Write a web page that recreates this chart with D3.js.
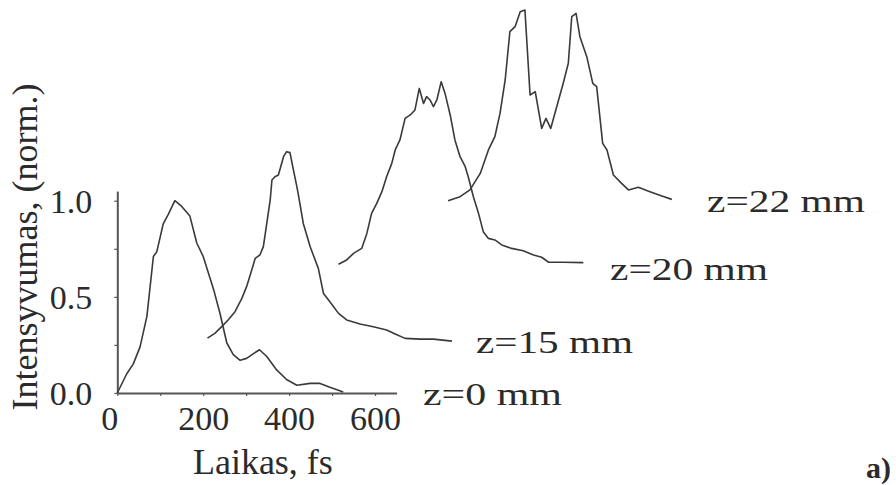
<!DOCTYPE html>
<html>
<head>
<meta charset="utf-8">
<script src="https://cdn.jsdelivr.net/npm/d3@7"></script>
<style>
  body { margin: 0; background: #fff; }
  svg { display: block; }
  text { font-family: "Liberation Serif", "Times New Roman", serif; fill: #2b2b2b; }
</style>
</head>
<body>
<div id="chart"></div>
<script>
// pulse profiles, time in fs and normalised intensity, each curve in its own frame
var seriesNames = ["z=0 mm", "z=15 mm", "z=20 mm", "z=22 mm"];
var timeShift = [0, 210, 515, 770];      // fs, horizontal offset of each curve
var levelShift = [0, 0.28, 0.67, 1.0];    // vertical offset of each curve

var time0 = [0, 22, 37, 53, 69, 84, 92, 107, 119, 134, 150, 169, 185, 200, 224, 239, 255, 270, 286, 301, 317, 331, 348, 371, 394, 418, 449, 472, 495, 526];
var int0 = [0, 0.10, 0.15, 0.24, 0.40, 0.71, 0.735, 0.88, 0.93, 1.0, 0.97, 0.92, 0.78, 0.71, 0.54, 0.415, 0.26, 0.20, 0.17, 0.18, 0.205, 0.225, 0.19, 0.12, 0.07, 0.04, 0.05, 0.05, 0.03, 0.005];

var time15 = [0, 17, 33, 48, 64, 80, 91, 103, 111, 122, 130, 138, 146, 150, 157, 165, 177, 184, 192, 200, 208, 211, 223, 239, 258, 270, 285, 305, 324, 355, 386, 417, 437, 460, 495, 526, 569];
var int15 = [0.005, 0.03, 0.065, 0.10, 0.143, 0.212, 0.273, 0.36, 0.42, 0.438, 0.481, 0.602, 0.724, 0.828, 0.845, 0.854, 0.949, 0.975, 0.97, 0.88, 0.793, 0.758, 0.602, 0.481, 0.368, 0.238, 0.195, 0.134, 0.10, 0.079, 0.065, 0.048, 0.027, 0.004, 0, 0, -0.01];

var time20 = [0, 19, 35, 54, 66, 77, 89, 101, 112, 124, 132, 143, 155, 167, 178, 188, 198, 205, 213, 221, 229, 239, 248, 260, 271, 283, 295, 302, 314, 326, 337, 349, 364, 380, 403, 430, 454, 473, 489, 523, 570];
var int20 = [0, 0.022, 0.056, 0.082, 0.16, 0.264, 0.316, 0.377, 0.455, 0.524, 0.594, 0.646, 0.758, 0.776, 0.802, 0.914, 0.836, 0.871, 0.854, 0.819, 0.854, 0.949, 0.888, 0.776, 0.646, 0.559, 0.507, 0.455, 0.351, 0.264, 0.169, 0.134, 0.126, 0.10, 0.082, 0.07, 0.048, 0.036, 0.01, 0.01, 0.008];

var time22 = [0, 28, 51, 75, 94, 109, 121, 133, 144, 156, 168, 179, 191, 203, 218, 228, 239, 253, 268, 280, 288, 298, 307, 323, 337, 346, 360, 370, 385, 404, 420, 443, 470, 498, 521];
var int22 = [0, 0.021, 0.056, 0.142, 0.264, 0.333, 0.454, 0.628, 0.879, 0.905, 0.983, 0.992, 0.55, 0.567, 0.376, 0.428, 0.376, 0.489, 0.61, 0.715, 0.957, 0.974, 0.853, 0.749, 0.61, 0.593, 0.298, 0.264, 0.134, 0.09, 0.056, 0.07, 0.047, 0.024, 0.007];

var xTicks = [0, 100, 200, 300, 400, 500, 600];
var xTickLabels = ["0", "", "200", "", "400", "", "600"];
var yTicks = [0, 0.25, 0.5, 0.75, 1.0];
var yTickLabels = ["0.0", "", "0.5", "", "1.0"];

var times = [time0, time15, time20, time22];
var ints = [int0, int15, int20, int22];

var width = 896, height = 485;

var svg = d3.select("#chart").append("svg")
    .attr("width", width)
    .attr("height", height);

var x = d3.scaleLinear().domain([0, 650]).range([117.3, 396.5]);
var y = d3.scaleLinear().domain([0, 1.05]).range([393, 191.1]);

// axes
var xAxis = d3.axisBottom(x)
    .tickValues(xTicks)
    .tickSize(3)
    .tickSizeOuter(0)
    .tickPadding(10)
    .tickFormat(function (d, i) { return xTickLabels[i]; });

var yAxis = d3.axisLeft(y)
    .tickValues(yTicks)
    .tickSize(3)
    .tickSizeOuter(0)
    .tickPadding(22)
    .tickFormat(function (d, i) { return yTickLabels[i]; });

var gx = svg.append("g")
    .attr("transform", "translate(0," + y(0) + ")")
    .call(xAxis);
var gy = svg.append("g")
    .attr("transform", "translate(" + x(0) + ",0)")
    .call(yAxis);

[gx, gy].forEach(function (g) {
    g.select(".domain").attr("stroke", "#555").attr("stroke-width", 2);
    g.selectAll(".tick line").attr("stroke", "#555").attr("stroke-width", 1.2);
    g.selectAll(".tick text")
        .attr("font-family", "Liberation Serif")
        .attr("font-size", 34)
        .attr("fill", "#2b2b2b");
});
gy.selectAll(".tick text").attr("dy", "0.34em");
// the "0" sits a little left of its tick in the original
gx.selectAll(".tick text").filter(function (d) { return d === 0; }).attr("dx", -8);

// curves
var line = d3.line()
    .x(function (d) { return x(d.t); })
    .y(function (d) { return y(d.v); });

seriesNames.forEach(function (name, k) {
    var pts = times[k].map(function (t, i) {
        return { t: t + timeShift[k], v: ints[k][i] + levelShift[k] };
    });
    svg.append("path")
        .datum(pts)
        .attr("fill", "none")
        .attr("stroke", "#3a3a3a")
        .attr("stroke-width", 1.6)
        .attr("stroke-linejoin", "round")
        .attr("d", line);
});

// curve labels (wider lettering than the axis text)
var labelPos = [[423, 405, 139], [476, 353, 157], [610, 280, 158], [707, 212, 158]];
seriesNames.forEach(function (name, k) {
    svg.append("text")
        .attr("x", labelPos[k][0])
        .attr("y", labelPos[k][1])
        .attr("font-size", 32)
        .attr("textLength", labelPos[k][2])
        .attr("lengthAdjust", "spacingAndGlyphs")
        .text(name);
});

// axis titles
svg.append("text")
    .attr("x", (x(0) + x(650)) / 2 + 6)
    .attr("y", 474)
    .attr("text-anchor", "middle")
    .attr("font-size", 36)
    .text("Laikas, fs");

svg.append("text")
    .attr("transform", "translate(37,247) rotate(-90)")
    .attr("text-anchor", "middle")
    .attr("font-size", 36)
    .text("Intensyvumas, (norm.)");

svg.append("text")
    .attr("x", 866)
    .attr("y", 478)
    .attr("font-size", 30)
    .attr("font-weight", "bold")
    .attr("fill", "#111")
    .text("a)");
</script>
</body>
</html>
